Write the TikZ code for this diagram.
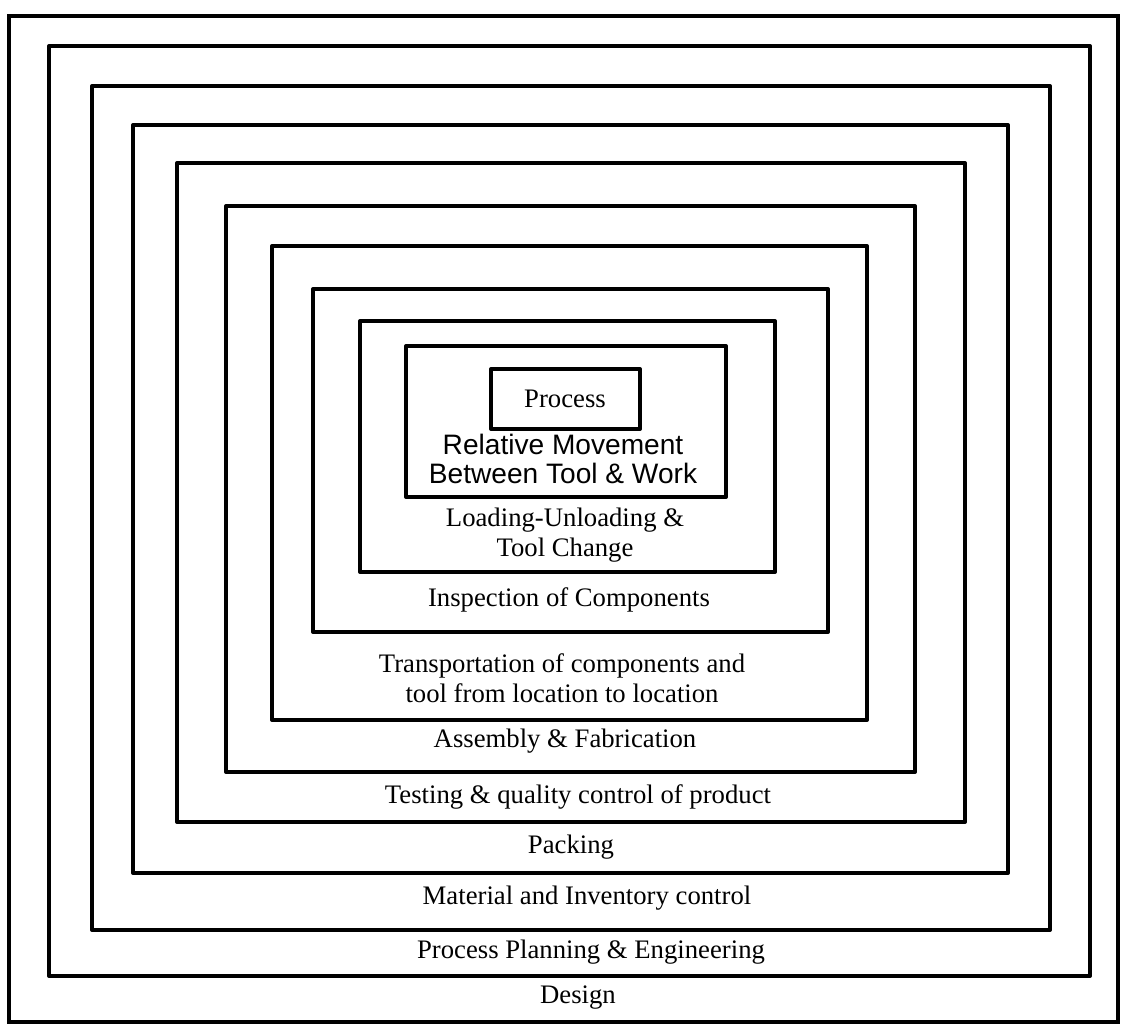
\documentclass[tikz,border=0pt]{standalone}
\usepackage{fontspec}
\setmainfont{Liberation Serif}
\newfontfamily\movefont{Liberation Sans}
\usetikzlibrary{backgrounds}
\pgfdeclarelayer{edgelayer}
\pgfdeclarelayer{nodelayer}
\pgfsetlayers{edgelayer,nodelayer,main}
\tikzset{font=\fontsize{15.2}{17}\selectfont}
\tikzstyle{none}=[inner sep=0pt]
\tikzstyle{lbl}=[inner sep=0pt,align=center]
\tikzstyle{frame}=[line width=2.3pt,line join=round]

\begin{document}
\begin{tikzpicture}[x=0.02cm,y=-0.02cm]
	\useasboundingbox (0,0) rectangle (1125,1027);
	\begin{pgfonlayer}{nodelayer}
		% corners of the boxes, outside to inside
		\node [style=none] (0) at (9, 16) {};
		\node [style=none] (1) at (1118, 1022) {};
		\node [style=none] (2) at (49, 46) {};
		\node [style=none] (3) at (1090, 976) {};
		\node [style=none] (4) at (92, 86) {};
		\node [style=none] (5) at (1050, 930) {};
		\node [style=none] (6) at (133, 125) {};
		\node [style=none] (7) at (1008, 873) {};
		\node [style=none] (8) at (177, 163) {};
		\node [style=none] (9) at (965, 822) {};
		\node [style=none] (10) at (226, 206) {};
		\node [style=none] (11) at (915, 772) {};
		\node [style=none] (12) at (272, 246) {};
		\node [style=none] (13) at (867, 720) {};
		\node [style=none] (14) at (313, 289) {};
		\node [style=none] (15) at (828, 632) {};
		\node [style=none] (16) at (360, 321) {};
		\node [style=none] (17) at (775, 572) {};
		\node [style=none] (18) at (406, 346) {};
		\node [style=none] (19) at (726, 497) {};
		\node [style=none] (20) at (491, 369) {};
		\node [style=none] (21) at (640, 429) {};
		% labels
		\node [style=lbl] (process) at (565, 399) {Process};
		\node [style=lbl] (move) at (563, 459) {\movefont\fontsize{16}{30}\selectfont Relative Movement\\\movefont\fontsize{16}{30}\selectfont Between Tool \& Work};
		\node [style=lbl] (load) at (565, 535) {Loading-Unloading \&\\Tool Change};
		\node [style=lbl] (inspect) at (569, 600) {Inspection of Components};
		\node [style=lbl] (transport) at (562, 678) {Transportation of components and\\tool from location to location};
		\node [style=lbl] (assembly) at (565, 741) {Assembly \& Fabrication};
		\node [style=lbl] (testing) at (578, 797) {Testing \& quality control of product};
		\node [style=lbl] (packing) at (571, 847) {Packing};
		\node [style=lbl] (material) at (587, 898) {Material and Inventory control};
		\node [style=lbl] (planning) at (591, 952) {Process Planning \& Engineering};
		\node [style=lbl] (design) at (578, 998) {Design};
	\end{pgfonlayer}
	\begin{pgfonlayer}{edgelayer}
		\draw[line width=2pt] (0.center) rectangle (1.center);
		\draw[style=frame] (2.center) rectangle (3.center);
		\draw[style=frame] (4.center) rectangle (5.center);
		\draw[style=frame] (6.center) rectangle (7.center);
		\draw[style=frame] (8.center) rectangle (9.center);
		\draw[style=frame] (10.center) rectangle (11.center);
		\draw[style=frame] (12.center) rectangle (13.center);
		\draw[style=frame] (14.center) rectangle (15.center);
		\draw[style=frame] (16.center) rectangle (17.center);
		\draw[style=frame] (18.center) rectangle (19.center);
		\draw[style=frame] (20.center) rectangle (21.center);
	\end{pgfonlayer}
\end{tikzpicture}
\end{document}
